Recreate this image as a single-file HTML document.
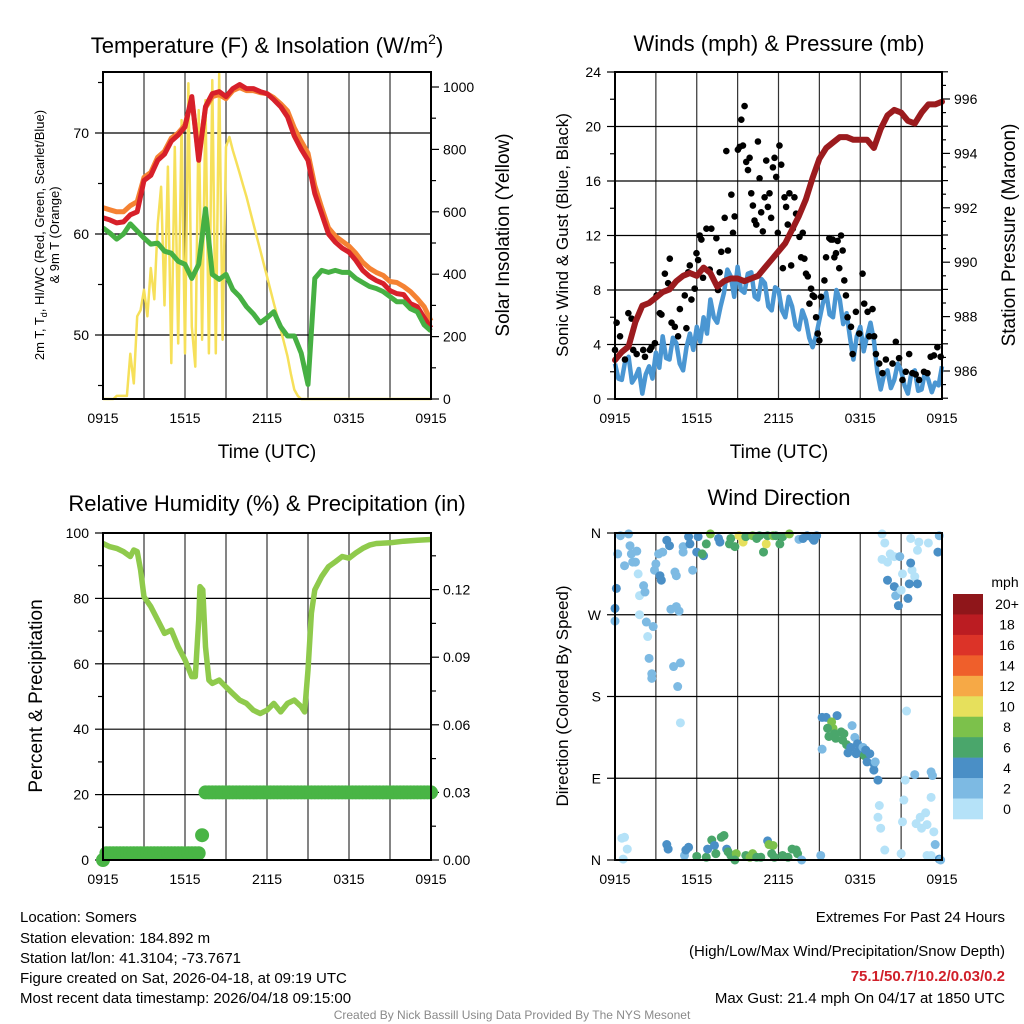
<!DOCTYPE html>
<html><head><meta charset="utf-8"><title>Somers Meteogram</title>
<style>
html,body{margin:0;padding:0;background:#fff;}
svg{display:block;font-family:"Liberation Sans",Arial,sans-serif;}
</style></head>
<body>
<svg id="chart" width="1024" height="1024" viewBox="0 0 1024 1024" xmlns="http://www.w3.org/2000/svg">
<rect x="0" y="0" width="1024" height="1024" fill="#fff"/>
<text x="267" y="53" font-size="22" text-anchor="middle">Temperature (F) &amp; Insolation (W/m<tspan font-size="14" dy="-9">2</tspan><tspan dy="9">)</tspan></text>
<text x="779" y="51" font-size="22" text-anchor="middle">Winds (mph) &amp; Pressure (mb)</text>
<text x="267" y="511" font-size="22" text-anchor="middle">Relative Humidity (%) &amp; Precipitation (in)</text>
<text x="779" y="505" font-size="22" text-anchor="middle">Wind Direction</text>
<text x="267" y="458" font-size="19" text-anchor="middle">Time (UTC)</text>
<text x="779" y="458" font-size="19" text-anchor="middle">Time (UTC)</text>
<text transform="translate(44,235) rotate(-90)" font-size="13" text-anchor="middle">2m T, T<tspan font-size="9" dy="3">d</tspan><tspan dy="-3">, HI/WC (Red, Green, Scarlet/Blue)</tspan></text>
<text transform="translate(59,235) rotate(-90)" font-size="13" text-anchor="middle">&amp; 9m T (Orange)</text>
<text transform="translate(509,235) rotate(-90)" font-size="19" text-anchor="middle">Solar Insolation (Yellow)</text>
<text transform="translate(568,235) rotate(-90)" font-size="17" text-anchor="middle">Sonic Wind &amp; Gust (Blue, Black)</text>
<text transform="translate(1015,235) rotate(-90)" font-size="19" text-anchor="middle">Station Pressure (Maroon)</text>
<text transform="translate(42,696) rotate(-90)" font-size="19" text-anchor="middle">Percent &amp; Precipitation</text>
<text transform="translate(568,696) rotate(-90)" font-size="17" text-anchor="middle">Direction (Colored By Speed)</text>
<g font-size="15">
<text x="20" y="922">Location: Somers</text>
<text x="20" y="943">Station elevation: 184.892 m</text>
<text x="20" y="963">Station lat/lon: 41.3104; -73.7671</text>
<text x="20" y="983">Figure created on Sat, 2026-04-18, at 09:19 UTC</text>
<text x="20" y="1003">Most recent data timestamp: 2026/04/18 09:15:00</text>
</g>
<g font-size="15" text-anchor="end">
<text x="1005" y="922">Extremes For Past 24 Hours</text>
<text x="1005" y="956">(High/Low/Max Wind/Precipitation/Snow Depth)</text>
<text x="1005" y="981" font-weight="bold" fill="#d0202a">75.1/50.7/10.2/0.03/0.2</text>
<text x="1005" y="1003">Max Gust: 21.4 mph On 04/17 at 1850 UTC</text>
</g>
<text x="512" y="1019" font-size="12" fill="#8a8a8a" text-anchor="middle">Created By Nick Bassill Using Data Provided By The NYS Mesonet</text>
<g id="layer"></g>
</svg>
<script>
const halfHours = [0,0.5,1,1.5,2,2.5,3,3.5,4,4.5,5,5.5,6,6.5,7,7.5,8,8.5,9,9.5,10,10.5,11,11.5,12,12.5,13,13.5,14,14.5,15,15.5,16,16.5,17,17.5,18,18.5,19,19.5,20,20.5,21,21.5,22,22.5,23,23.5,24];
const timeTickLabels = ["0915","1515","2115","0315","0915"];
const tempRed = [61.6,61.4,61.1,61.2,61.9,62.2,65.3,65.8,67.3,67.9,69.2,69.8,70.6,73.6,67.3,72.6,73.9,74.1,73.6,74.4,74.8,74.4,74.4,74.1,73.9,73.3,72.6,71.6,69.7,68.4,67.3,64.0,62.0,60.0,59.2,58.6,58.2,57.4,56.4,55.8,55.4,55.1,54.4,54.1,54.0,53.1,52.8,51.7,50.7];
const temp9mOrange = [62.6,62.4,62.2,62.2,62.8,63.2,65.6,66.1,67.6,68.2,69.5,70.0,70.8,73.4,67.6,72.5,73.6,73.8,73.4,74.2,74.5,74.2,74.2,74.0,73.9,73.5,72.9,72.2,70.5,69.2,68.0,64.8,62.6,60.6,59.8,59.3,58.8,58.1,57.2,56.6,56.2,55.9,55.3,55.2,54.8,54.3,53.6,52.8,51.4];
const dewGreen = [60.6,60.1,59.5,60.0,61.0,60.3,59.6,59.0,59.1,58.3,58.1,57.3,57.0,55.6,57.0,62.5,56.0,55.5,56.0,54.5,53.8,52.8,52.1,51.2,51.7,52.3,50.8,49.9,49.9,48.2,45.1,55.6,56.4,56.2,56.4,56.2,56.2,55.6,55.2,54.8,54.6,54.3,53.8,53.3,53.3,52.6,52.3,51.0,50.4];
const solarQuarterHourly = [0,0,0,0,10,10,10,10,145,50,265,285,350,265,420,320,560,680,300,745,115,808,178,894,146,1012,232,104,926,190,958,146,1022,146,1043,190,808,840,797,760,723,685,648,605,563,520,478,435,393,350,307,265,222,180,137,80,30,10,0,0,0,0,0,0,0,0,0,0,0,0,0,0,0,0,0,0,0,0,0,0,0,0,0,0,0,0,0,0,0,0,0,0,0,0,0,0,0];
const windQuarterHourly = [2.6,1.5,1.4,2.8,3.1,1.2,1.6,2.2,0.4,1.8,2.4,1.5,3.4,2.3,4.6,3.0,2.9,4.5,4.1,2.6,2.1,3.8,4.8,3.6,5.3,4.2,6.0,4.8,7.3,6.0,5.6,6.8,7.8,9.5,9.0,7.5,9.7,8.0,7.8,9.2,9.3,7.5,7.3,8.8,8.5,6.8,6.5,8.2,8.0,6.5,6.0,7.5,6.8,5.4,5.1,6.5,5.8,4.5,3.8,4.6,5.8,7.0,7.8,6.2,6.0,8.0,7.3,5.5,6.3,4.5,2.9,4.6,5.3,3.5,4.6,5.6,4.3,2.0,0.7,1.8,2.1,0.8,1.4,2.6,2.1,1.0,0.4,1.9,2.1,0.6,0.7,2.0,1.4,0.5,1.2,1.0,2.4];
const pressure = [986.4,986.7,986.9,987.8,988.4,988.5,988.7,988.9,989.0,989.3,989.5,989.6,989.5,989.8,989.6,989.1,989.3,989.4,989.4,989.3,989.4,989.5,989.8,990.1,990.4,990.7,991.2,991.7,992.3,993.1,993.8,994.2,994.4,994.6,994.6,994.5,994.5,994.5,994.2,994.9,995.4,995.6,995.5,995.2,995.1,995.5,995.8,995.8,995.9];
const gustHours = [0.00,0.12,0.37,0.73,0.98,1.22,1.34,1.59,2.07,2.20,2.56,2.68,2.93,3.05,3.29,3.41,3.66,3.90,4.02,4.15,4.39,4.63,4.76,5.12,5.24,5.37,5.49,5.61,5.85,5.98,6.10,6.22,6.34,6.46,6.71,6.95,7.07,7.44,7.56,7.68,7.80,8.05,8.17,8.29,8.54,8.66,8.78,9.02,9.15,9.27,9.39,9.51,9.63,9.76,9.88,10.00,10.12,10.24,10.37,10.49,10.61,10.73,10.85,10.98,11.10,11.22,11.34,11.46,11.59,11.71,11.83,11.95,12.07,12.20,12.32,12.44,12.56,12.68,12.80,12.93,13.05,13.17,13.29,13.54,13.66,13.78,13.90,14.02,14.15,14.27,14.39,14.51,14.63,14.76,14.88,15.00,15.12,15.37,15.49,15.73,15.85,15.98,16.10,16.22,16.34,16.46,16.59,16.71,16.83,16.95,17.07,17.32,17.44,17.68,17.93,18.17,18.29,18.54,18.66,18.90,19.02,19.15,19.39,19.63,19.88,20.37,20.61,20.85,21.10,21.34,21.59,21.83,22.07,22.32,22.68,22.93,23.17,23.41,23.66,23.90];
const gustMph = [3.6,5.6,4.6,2.9,6.3,5.9,3.6,3.3,3.6,3.1,3.6,3.8,4.1,7.6,6.3,6.2,9.2,8.5,10.3,5.6,5.3,4.6,6.6,7.6,5.2,9.3,9.8,7.3,8.1,10.7,10.2,12.0,11.7,8.9,12.5,9.5,12.5,11.8,8.0,9.3,10.8,13.3,18.2,10.9,15.0,12.2,13.4,18.3,18.5,20.5,18.6,21.5,17.4,16.8,17.7,15.1,14.2,13.1,12.8,18.9,16.2,13.7,12.3,14.8,17.5,14.1,15.1,13.3,17.0,17.7,16.3,12.2,18.6,17.2,9.6,14.8,14.1,12.8,15.1,9.8,12.5,14.8,13.6,11.9,10.4,12.2,10.3,9.2,9.0,7.0,8.1,7.6,7.5,6.0,4.8,4.3,7.5,8.7,10.4,11.8,11.7,11.7,10.4,10.7,11.6,9.6,12.0,10.9,8.7,7.6,6.0,5.3,3.3,6.4,4.8,9.2,7.0,6.4,4.6,6.6,4.6,3.3,2.6,1.9,2.9,2.6,4.2,3.0,1.4,2.0,3.3,1.9,1.8,1.4,2.0,1.9,3.1,3.2,3.8,3.1];
const rhHours = [0,0.5,1,1.5,2,2.25,2.5,2.75,3,3.5,4,4.5,5,5.5,6,6.5,6.75,7,7.1,7.3,7.5,7.75,8,8.5,9,9.5,10,10.5,11,11.5,12,12.5,13,13.5,14,14.5,14.75,15,15.25,15.5,16,16.5,17,17.5,18,18.5,19,19.5,20,21,22,23,24];
const rhValues = [96.8,95.8,95.3,94.3,92.8,94.8,94.3,88.7,80.5,77.5,73.4,69.3,70.3,65.2,61.2,56.1,56.1,73.4,83.6,82.6,65.2,55.0,54.0,55.0,52.9,50.9,48.9,47.9,45.8,44.8,45.8,47.9,45.3,47.9,48.9,46.9,45.3,58.1,75.5,82.6,86.7,89.7,91.2,92.8,92.3,93.9,95.3,96.3,96.8,97.0,97.5,97.8,98.0];
const precipQuarterHourly = [0,0.003,0.003,0.003,0.003,0.003,0.003,0.003,0.003,0.003,0.003,0.003,0.003,0.003,0.003,0.003,0.003,0.003,0.003,0.003,0.003,0.003,0.003,0.003,0.003,0.003,0.003,0.003,0.003,0.011,0.03,0.03,0.03,0.03,0.03,0.03,0.03,0.03,0.03,0.03,0.03,0.03,0.03,0.03,0.03,0.03,0.03,0.03,0.03,0.03,0.03,0.03,0.03,0.03,0.03,0.03,0.03,0.03,0.03,0.03,0.03,0.03,0.03,0.03,0.03,0.03,0.03,0.03,0.03,0.03,0.03,0.03,0.03,0.03,0.03,0.03,0.03,0.03,0.03,0.03,0.03,0.03,0.03,0.03,0.03,0.03,0.03,0.03,0.03,0.03,0.03,0.03,0.03,0.03,0.03,0.03,0.03];
const dirHours = [0.4,1.0,1.1,0.2,1.2,1.6,1.3,0.7,1.7,1.5,0.1,2.1,1.8,2.2,0,0,1.8,2.3,2.8,2.4,2.5,2.7,2.7,4.3,4.8,4.6,4.8,2.9,3.0,3.3,3.4,3.5,3.2,3.8,4.0,4.4,4.5,4.1,4.5,4.7,5.0,5.0,5.4,5.5,5.7,6.0,6.1,6.5,6.7,6.4,7.0,7.6,7.7,8.4,8.5,8.8,9.1,9.4,9.6,10.1,10.4,10.6,10.9,11.1,11.2,11.6,11.8,12.1,12.3,12.8,13.5,13.8,14.1,14.5,14.8,14.6,
19.6,19.8,20.2,19.6,20.0,20.5,20.9,20.0,20.5,20.6,20.8,21.0,21.1,21.7,22.3,22.2,23.0,21.8,21.7,22.0,21.6,22.2,21.5,23.8,23.7,
15.2,15.5,16.3,15.9,16.0,15.6,16.1,16.6,16.8,15.7,16.2,16.7,17.0,17.4,17.6,17.3,17.8,17.9,18.2,17.7,18.3,18.4,18.5,18.7,19.0,19.0,19.1,19.3,15.2,17.1,21.4,
22.0,23.2,23.3,21.3,23.2,21.2,19.4,19.3,19.5,19.8,21.1,22.1,22.4,22.8,22.5,22.9,23.4,23.5,21.0,22.9,23.2,23.8,23.9,
0.5,0.7,0.9,0.6,3.8,3.9,5.1,5.2,5.4,6.0,6.7,6.8,7.1,7.3,7.4,7.8,8.0,8.2,8.3,8.5,8.9,8.8,9.6,9.9,10.1,10.4,10.7,11.2,11.3,11.6,11.5,11.7,12.3,12.7,13.0,13.3,13.4,13.7,15.1];
const dirDegrees = [357,359,346,337,337,340,328,324,315,328,299,302,291,295,277,263,270,262,257,246,222,205,200,213,217,191,151,319,326,313,308,339,337,352,346,317,313,276,279,274,345,339,356,348,319,339,356,335,348,337,359,354,350,348,354,345,357,350,356,357,354,357,339,348,357,357,357,348,356,359,353,354,357,354,357,352,
359,349,337,331,328,334,334,308,301,291,280,297,315,354,350,341,349,319,327,312,304,304,288,357,339,
157,157,159,152,145,145,139,141,139,136,134,132,127,148,135,124,128,121,124,117,115,121,108,117,106,99,108,88,122,118,164,
94,97,93,88,69,66,60,47,35,11,42,40,47,52,35,39,31,17,7,5,5,1,0,
24,25,12,1,17,12,5,11,14,4,3,12,22,16,7,25,27,12,9,5,7,0,5,3,7,3,3,21,17,16,7,3,5,3,12,11,7,0,5];
const dirSpeedMph = [3,3,3,3,3,3,3,3,1,3,5,3,1,3,5,3,1,3,3,1,3,3,3,3,3,3,1,3,3,5,5,3,3,5,5,3,3,3,3,3,3,3,5,5,3,5,5,5,7,7,9,5,5,7,7,7,11,11,7,9,7,7,7,11,7,9,7,7,7,9,3,5,5,5,5,5,
1,1,1,1,1,1,3,5,5,3,5,1,1,1,1,1,1,1,5,1,5,5,5,3,5,
5,5,5,9,9,7,7,7,7,7,7,7,7,3,3,5,5,5,3,5,7,5,5,5,5,5,3,5,3,5,1,
3,3,3,1,1,1,1,1,1,1,1,1,1,1,1,1,1,3,1,1,1,5,3,
1,1,1,1,5,5,3,5,5,7,7,5,7,5,7,7,7,5,7,7,9,7,7,9,9,7,7,5,9,9,7,7,7,7,7,7,7,3,3];
const legendLabels = ["20+","18","16","14","12","10","8","6","4","2","0"];
const legendColors = ["#8f161a","#bb1c22","#dc3328","#ef5f2b","#f6a946","#e6e05c","#7cc14b","#4aa66b","#4a8fc6","#7dbae3","#b5e2f8"];

const NS = "http://www.w3.org/2000/svg";
const layer = document.getElementById("layer");
function mk(tag, attrs, parent) {
  const e = document.createElementNS(NS, tag);
  for (const k in attrs) e.setAttribute(k, attrs[k]);
  (parent || layer).appendChild(e);
  return e;
}
function linear(d0, d1, r0, r1) { return v => r0 + (v - d0) * (r1 - r0) / (d1 - d0); }
function speedColor(s) {
  const idx = Math.min(10, Math.floor(s / 2));
  return legendColors[10 - idx];
}
function linePath(xs, ys, fx, fy) {
  return xs.map((h, i) => (i ? "L" : "M") + fx(h).toFixed(1) + "," + fy(ys[i]).toFixed(1)).join("");
}
const panels = {
  temp: {x0:103, x1:431, y0:72, y1:399},
  wind: {x0:615, x1:942, y0:72, y1:399},
  rh:   {x0:103, x1:431, y0:533, y1:860},
  dir:  {x0:615, x1:942, y0:533, y1:860}
};
function drawFrameAndTimeGrid(p, name) {
  const fx = linear(0, 24, p.x0, p.x1);
  for (let h = 3; h < 24; h += 3) {
    const g = mk("line", {x1:fx(h), x2:fx(h), y1:p.y0, y2:p.y1, stroke:"#333", "stroke-width":1.2});
    
    
  }
  for (let i = 0; i < timeTickLabels.length; i++) {
    const t = mk("text", {x:fx(i * 6), y:p.y1 + 24, "font-size":14, "text-anchor":"middle"});
    t.textContent = timeTickLabels[i];
    
    
  }
  return fx;
}
function hGrid(p, y, name) {
  const g = mk("line", {x1:p.x0, x2:p.x1, y1:y, y2:y, stroke:"#000", "stroke-width":1.2});
  
  
}
function tick(x, y, len, name) {
  const t = mk("line", {x1:x, x2:x + len, y1:y, y2:y, stroke:"#000", "stroke-width":1.2});
  
  
}
function label(x, y, txt, anchor, name) {
  const t = mk("text", {x:x, y:y + 5, "font-size":14, "text-anchor":anchor});
  t.textContent = txt;
  
  
}
function frame(p, name) {
  const r = mk("rect", {x:p.x0, y:p.y0, width:p.x1 - p.x0, height:p.y1 - p.y0, fill:"none", stroke:"#000", "stroke-width":2});
  
  
}

(function(){
  const p = panels.temp;
  const fx = drawFrameAndTimeGrid(p, "temperature");
  const fyT = linear(50, 70, 335, 133);
  const fyS = linear(0, 1000, 399, 87);
  [50, 60, 70].forEach(v => hGrid(p, fyT(v), "temperature"));
  [45, 50, 55, 60, 65, 70, 75].forEach(v => {
    tick(p.x0, fyT(v), v % 10 === 0 ? -8 : -5, "temperature-y-tick");
    if (v % 10 === 0) label(p.x0 - 14, fyT(v), String(v), "end", "temperature-y-tick-label");
  });
  for (let v = 0; v <= 1000; v += 100) {
    tick(p.x1, fyS(v), v % 200 === 0 ? 8 : 5, "insolation-y-tick");
    if (v % 200 === 0) label(p.x1 + 12, fyS(v), String(v), "start", "insolation-y-tick-label");
  }
  const qh = solarQuarterHourly.map((v, i) => i / 4);
  const s = mk("path", {d:linePath(qh, solarQuarterHourly, fx, fyS), fill:"none", stroke:"#f6e05a", "stroke-width":2.5, "stroke-linejoin":"round"});
  
  
  const o = mk("path", {d:linePath(halfHours, temp9mOrange, fx, fyT), fill:"none", stroke:"#f58233", "stroke-width":5, "stroke-linejoin":"round"});
  
  
  const r = mk("path", {d:linePath(halfHours, tempRed, fx, fyT), fill:"none", stroke:"#d7202a", "stroke-width":5, "stroke-linejoin":"round"});
  
  
  const g = mk("path", {d:linePath(halfHours, dewGreen, fx, fyT), fill:"none", stroke:"#46b043", "stroke-width":5, "stroke-linejoin":"round"});
  
  
  frame(p, "temperature");
})();

(function(){
  const p = panels.wind;
  const fx = drawFrameAndTimeGrid(p, "wind");
  const fyW = linear(0, 24, 399, 72);
  const fyP = linear(986, 996, 371, 99);
  for (let v = 4; v <= 20; v += 4) hGrid(p, fyW(v), "wind");
  for (let v = 0; v <= 24; v += 2) {
    tick(p.x0, fyW(v), v % 4 === 0 ? -8 : -5, "wind-y-tick");
    if (v % 4 === 0) label(p.x0 - 14, fyW(v), String(v), "end", "wind-y-tick-label");
  }
  for (let v = 985; v <= 997; v += 0.5) {
    const major = Math.abs(v % 2) < 0.01 && v >= 986 && v <= 996;
    tick(p.x1, fyP(v), major ? 8 : (v % 1 === 0 ? 6 : 4), "pressure-y-tick");
    if (major) label(p.x1 + 12, fyP(v), String(v), "start", "pressure-y-tick-label");
  }
  const qh = windQuarterHourly.map((v, i) => i / 4);
  const w = mk("path", {d:linePath(qh, windQuarterHourly, fx, fyW), fill:"none", stroke:"#4a96d2", "stroke-width":4.5, "stroke-linejoin":"round"});
  
  
  const gg = mk("g", {});
  
  
  gustHours.forEach((h, i) => {
    const c = mk("circle", {cx:fx(h), cy:fyW(gustMph[i]), r:3.3, fill:"#000"}, gg);
    
    
  });
  const pr = mk("path", {d:linePath(halfHours, pressure, fx, fyP), fill:"none", stroke:"#9b1b1e", "stroke-width":6, "stroke-linejoin":"round", "stroke-linecap":"round"});
  
  
  frame(p, "wind");
})();

(function(){
  const p = panels.rh;
  const fx = drawFrameAndTimeGrid(p, "humidity");
  const fyR = linear(0, 100, 860, 533);
  const fyI = linear(0, 0.03, 860, 792.4);
  for (let v = 20; v <= 80; v += 20) hGrid(p, fyR(v), "humidity");
  for (let v = 0; v <= 100; v += 10) {
    tick(p.x0, fyR(v), v % 20 === 0 ? -8 : -5, "humidity-y-tick");
    if (v % 20 === 0) label(p.x0 - 14, fyR(v), String(v), "end", "humidity-y-tick-label");
  }
  for (let v = 0; v <= 0.1451; v += 0.015) {
    const major = Math.round(v * 1000) % 30 === 0;
    tick(p.x1, fyI(v), major ? 8 : 5, "precip-y-tick");
    if (major) label(p.x1 + 12, fyI(v), v.toFixed(2), "start", "precip-y-tick-label");
  }
  const rl = mk("path", {d:linePath(rhHours, rhValues, fx, fyR), fill:"none", stroke:"#8fca4c", "stroke-width":5.5, "stroke-linejoin":"round"});
  
  
  const pg = mk("g", {});
  
  
  precipQuarterHourly.forEach((v, i) => {
    const c = mk("circle", {cx:fx(i / 4), cy:fyI(v), r:7, fill:"#49b545"}, pg);
    
    
  });
  frame(p, "humidity");
})();

(function(){
  const p = panels.dir;
  const fx = drawFrameAndTimeGrid(p, "direction");
  const fyD = linear(0, 360, 860, 533);
  const dirLabels = ["N","E","S","W","N"];
  [90, 180, 270].forEach(v => hGrid(p, fyD(v), "direction"));
  for (let i = 0; i < 5; i++) {
    tick(p.x0, fyD(i * 90), -8, "direction-y-tick");
    label(p.x0 - 14, fyD(i * 90), dirLabels[i], "end", "direction-y-tick-label");
  }
  const dg = mk("g", {});
  
  
  dirHours.forEach((h, i) => {
    const c = mk("circle", {cx:fx(h), cy:fyD(dirDegrees[i]), r:4.5, fill:speedColor(dirSpeedMph[i])}, dg);
    
    
  });
  frame(p, "direction");
  const lg = mk("g", {});
  
  
  const t = mk("text", {x:1005, y:587, "font-size":14, "text-anchor":"middle"}, lg);
  t.textContent = "mph";
  
  
  const bh = 225 / legendLabels.length;
  legendLabels.forEach((lab, i) => {
    const r = mk("rect", {x:953, y:594 + i * bh, width:30, height:bh + 0.3, fill:legendColors[i]}, lg);
    
    
    const tx = mk("text", {x:1007, y:594 + i * bh + bh / 2 + 5, "font-size":14, "text-anchor":"middle"}, lg);
    tx.textContent = lab;
    
    
  });
})();
</script>
</body></html>
